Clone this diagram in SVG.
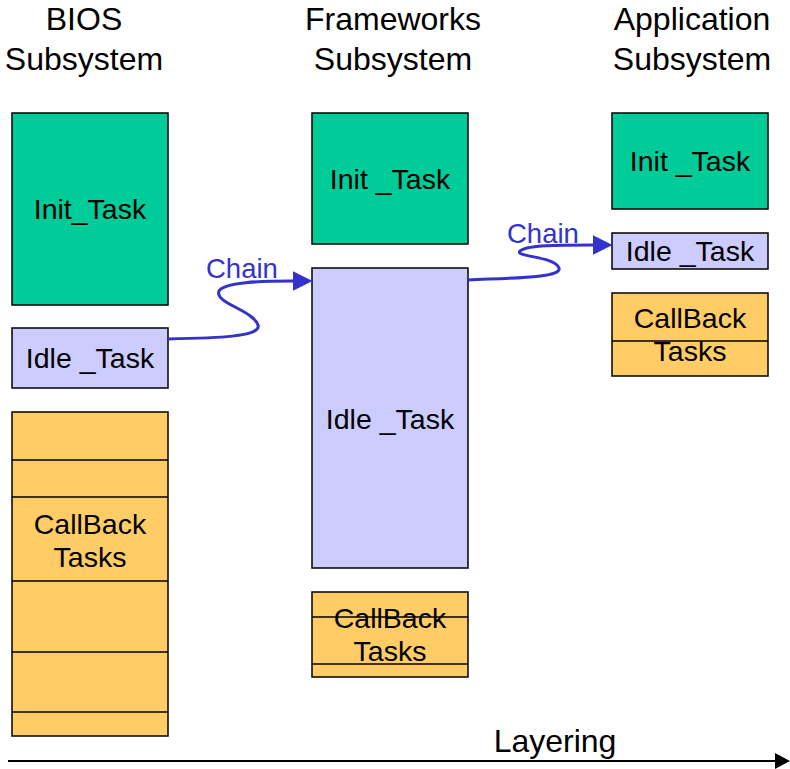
<svg xmlns="http://www.w3.org/2000/svg" width="790" height="769" viewBox="0 0 790 769">
  <style>
    text { font-family: "Liberation Sans", Arial, sans-serif; fill: #000; text-anchor: middle; }
    .hdr { font-size: 32px; }
    .lbl { font-size: 28.5px; }
    .axis { font-size: 32px; }
    .chain { font-size: 27.5px; fill: #3333CC; text-anchor: start; }
    .init { fill: #00CC99; stroke: #000; stroke-width: 1.5; }
    .idle { fill: #CCCCFF; stroke: #000; stroke-width: 1.5; }
    .cb { fill: #FFCC66; stroke: #000; stroke-width: 1.5; }
    .sep { stroke: #000; stroke-width: 1.5; }
    .link { fill: none; stroke: #3333CC; stroke-width: 3; }
  </style>
  <defs>
    <marker id="blueHead" viewBox="0 0 10 10" refX="0" refY="5" markerWidth="6.5" markerHeight="6.5" orient="auto" markerUnits="strokeWidth">
      <path d="M0,0 L10,5 L0,10 z" fill="#3333CC"/>
    </marker>
  </defs>

  <!-- column headers -->
  <g id="headers">
    <text class="hdr" x="84" y="30">BIOS</text>
    <text class="hdr" x="84" y="70">Subsystem</text>
    <text class="hdr" x="393" y="30">Frameworks</text>
    <text class="hdr" x="393" y="70">Subsystem</text>
    <text class="hdr" x="692" y="30">Application</text>
    <text class="hdr" x="692" y="70">Subsystem</text>
  </g>

  <!-- BIOS subsystem -->
  <g id="bios-init">
    <rect class="init" x="12" y="113" width="156" height="192"/>
    <text class="lbl" x="90" y="219">Init_Task</text>
  </g>
  <g id="bios-idle">
    <rect class="idle" x="12" y="328" width="156" height="60"/>
    <text class="lbl" x="90" y="368">Idle _Task</text>
  </g>
  <g id="bios-callback">
    <rect class="cb" x="12" y="412" width="156" height="324"/>
    <line class="sep" x1="12" y1="460" x2="168" y2="460"/>
    <line class="sep" x1="12" y1="497" x2="168" y2="497"/>
    <line class="sep" x1="12" y1="581" x2="168" y2="581"/>
    <line class="sep" x1="12" y1="652" x2="168" y2="652"/>
    <line class="sep" x1="12" y1="712" x2="168" y2="712"/>
    <text class="lbl" x="90" y="534">CallBack</text>
    <text class="lbl" x="90" y="567">Tasks</text>
  </g>

  <!-- Frameworks subsystem -->
  <g id="fw-init">
    <rect class="init" x="312" y="113" width="156" height="131"/>
    <text class="lbl" x="390" y="189">Init _Task</text>
  </g>
  <g id="fw-idle">
    <rect class="idle" x="312" y="268" width="156" height="300"/>
    <text class="lbl" x="390" y="429">Idle _Task</text>
  </g>
  <g id="fw-callback">
    <rect class="cb" x="312" y="592" width="156" height="85"/>
    <line class="sep" x1="312" y1="617" x2="468" y2="617"/>
    <line class="sep" x1="312" y1="664" x2="468" y2="664"/>
    <text class="lbl" x="390" y="628">CallBack</text>
    <text class="lbl" x="390" y="661">Tasks</text>
  </g>

  <!-- Application subsystem -->
  <g id="app-init">
    <rect class="init" x="612" y="113" width="156" height="96"/>
    <text class="lbl" x="690" y="171">Init _Task</text>
  </g>
  <g id="app-idle">
    <rect class="idle" x="612" y="233" width="156" height="36"/>
    <text class="lbl" x="690" y="261">Idle _Task</text>
  </g>
  <g id="app-callback">
    <rect class="cb" x="612" y="293" width="156" height="83"/>
    <line class="sep" x1="612" y1="341" x2="768" y2="341"/>
    <text class="lbl" x="690" y="328">CallBack</text>
    <text class="lbl" x="690" y="361">Tasks</text>
  </g>

  <!-- connectors -->
  <g id="connectors">
    <path class="link" d="M168,339 C215,338 262,337 258,325 C253,310 214,303 219,291 C224,282 260,281 293,281" marker-end="url(#blueHead)"/>
    <text class="chain" x="206" y="278">Chain</text>
    <path class="link" d="M468,280 C510,278 562,278 559,268 C555,256 514,257 520,251 C526,245 560,245 593,245" marker-end="url(#blueHead)"/>
    <text class="chain" x="507" y="243">Chain</text>

    <line x1="8" y1="761" x2="776" y2="761" stroke="#000" stroke-width="2"/>
    <path d="M775,753 L790,761 L775,769 z" fill="#000"/>
    <text class="axis" x="555" y="752">Layering</text>
  </g>
</svg>
